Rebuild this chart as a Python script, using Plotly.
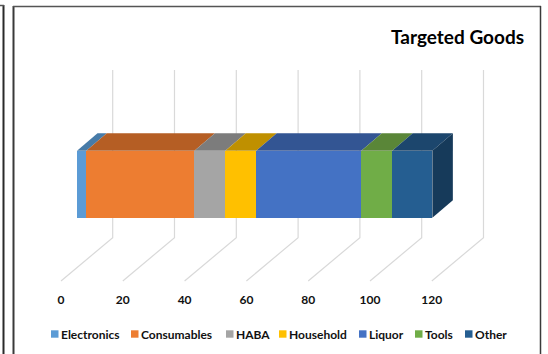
import numpy as np
import plotly.graph_objects as go

categories = ["Electronics", "Consumables", "HABA", "Household", "Liquor", "Tools", "Other"]
values = [3, 35, 10, 10, 34, 10, 13]
tick_values = [0, 20, 40, 60, 80, 100, 120]

front_colors = ["#5B9BD5", "#ED7D31", "#A5A5A5", "#FFC000", "#4472C4", "#70AD47", "#255E91"]
top_colors = ["#477BA8", "#B55E24", "#7C7C7C", "#BF9000", "#335593", "#5A8638", "#1C466D"]
side_color = "#163A5A"
legend_swatch_px = [51, 131, 226, 279, 359, 415, 465]

W, H = 548, 354
PX_PER_UNIT = 3.09
FLOOR_PX = 285
FONT = "Lato"
INK = "#111111"
GRID = "#D9D9D9"

axis_left = 61
bar_left = 77
bar_top, bar_bottom = 150.7, 217.7
bar_dx, bar_dy = 20.5 / PX_PER_UNIT, 17.4
wall_dx = 51.7 / PX_PER_UNIT
floor_front, floor_back, wall_top = 281, 237.7, 70

fig = go.Figure()

# gridlines: floor diagonal plus back wall, one per tick
for v in tick_values:
    fig.add_trace(go.Scatter(
        x=[v, v + wall_dx, v + wall_dx], y=[floor_front, floor_back, wall_top],
        mode="lines", line=dict(color=GRID, width=1.2), hoverinfo="skip",
        showlegend=False, xaxis="x", yaxis="y"))

ends = np.cumsum(values)
starts = ends - np.array(values)

# front faces
for name, val, col in zip(categories, values, front_colors):
    fig.add_trace(go.Bar(
        x=[val], y=[(bar_top + bar_bottom) / 2], width=bar_bottom - bar_top,
        name=name, orientation="h", marker=dict(color=col, line=dict(width=0)),
        showlegend=False, xaxis="x2", yaxis="y"))

# top faces
for s, e, col in zip(starts, ends, top_colors):
    fig.add_trace(go.Scatter(
        x=[s, e, e + bar_dx, s + bar_dx, s],
        y=[bar_top, bar_top, bar_top - bar_dy, bar_top - bar_dy, bar_top],
        mode="lines", fill="toself", fillcolor=col, line=dict(width=0),
        hoverinfo="skip", showlegend=False, xaxis="x2", yaxis="y"))

# right end face
total = ends[-1]
fig.add_trace(go.Scatter(
    x=[total, total + bar_dx, total + bar_dx, total, total],
    y=[bar_top, bar_top - bar_dy, bar_bottom - bar_dy, bar_bottom, bar_top],
    mode="lines", fill="toself", fillcolor=side_color, line=dict(width=0),
    hoverinfo="skip", showlegend=False, xaxis="x2", yaxis="y"))

shapes = []
annotations = []
LEG_Y = 334
for name, col, px in zip(categories, front_colors, legend_swatch_px):
    shapes.append(dict(type="rect", xref="paper", yref="paper",
                       x0=px / W, x1=(px + 7.5) / W,
                       y0=1 - (LEG_Y - 3.7) / FLOOR_PX, y1=1 - (LEG_Y + 3.7) / FLOOR_PX,
                       fillcolor=col, line=dict(width=0)))
    annotations.append(dict(text=f"<b>{name}</b>", xref="paper", yref="paper",
                            x=(px + 8) / W, y=1 - LEG_Y / FLOOR_PX,
                            xanchor="left", yanchor="middle", showarrow=False,
                            font=dict(family=FONT, size=12, color=INK)))

annotations.append(dict(text="<b>Targeted Goods</b>", xref="paper", yref="paper",
                        x=526 / W, y=1 - 37 / FLOOR_PX, xanchor="right", yanchor="middle",
                        showarrow=False, font=dict(family=FONT, size=19, color="#000000")))


def seg(x0, y0, x1, y1, col, w):
    return dict(type="line", xref="paper", yref="paper", x0=x0 / W, x1=x1 / W,
                y0=1 - y0 / FLOOR_PX, y1=1 - y1 / FLOOR_PX, line=dict(color=col, width=w))


# frames round the picture
shapes += [
    seg(13.5, 6, 13.5, 354, "#3A3A3A", 2),
    seg(13, 6.5, 541, 6.5, "#555555", 1.5),
    seg(540.5, 6, 540.5, 354, "#3A3A3A", 1.5),
    seg(3.5, 5, 3.5, 354, "#2A2A2A", 2),
    seg(0, 5.5, 4, 5.5, "#555555", 1.5),
]

fig.update_layout(
    width=W, height=H, autosize=False,
    margin=dict(l=0, r=0, t=0, b=H - FLOOR_PX),
    paper_bgcolor="white", plot_bgcolor="rgba(0,0,0,0)",
    barmode="stack", showlegend=False,
    xaxis=dict(range=[-axis_left / PX_PER_UNIT, (W - axis_left) / PX_PER_UNIT],
               tickmode="array", tickvals=tick_values,
               ticktext=[f"<b>{v}</b>" for v in tick_values],
               showgrid=False, zeroline=False, showline=False, ticks="",
               tickfont=dict(family=FONT, size=12, color=INK), ticklabelstandoff=6),
    xaxis2=dict(range=[-bar_left / PX_PER_UNIT, (W - bar_left) / PX_PER_UNIT],
                overlaying="x", side="bottom", visible=False),
    yaxis=dict(range=[FLOOR_PX, 0], visible=False),
    shapes=shapes, annotations=annotations,
)
fig.write_html("out.html", config={"displayModeBar": False},
               post_script="document.body.style.margin='0';document.body.style.overflow='hidden';")
